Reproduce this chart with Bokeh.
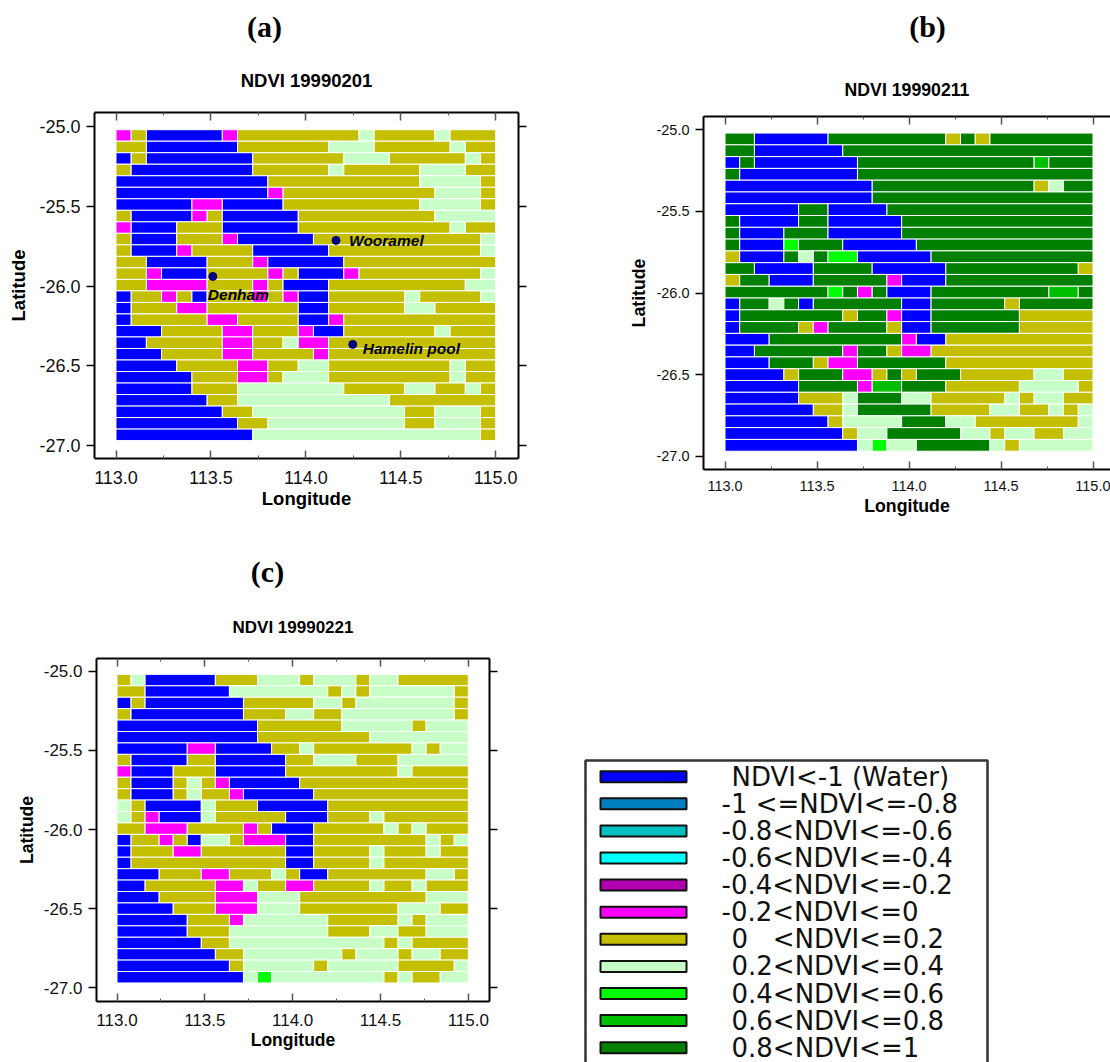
from bokeh.plotting import figure
from bokeh.models import (Range1d, LinearAxis, FixedTicker, NumeralTickFormatter,
                          CustomJSTickFormatter, ColumnDataSource)
from bokeh.core.properties import value
from bokeh.embed import file_html
from bokeh.resources import INLINE

# Classes
classes = ["NDVI<-1 (Water)", "-1 <=NDVI<=-0.8", "-0.8<NDVI<=-0.6", "-0.6<NDVI<=-0.4",
           "-0.4<NDVI<=-0.2", "-0.2<NDVI<=0", "0\u00a0\u00a0\u00a0<NDVI<=0.2", "0.2<NDVI<=0.4",
           "0.4<NDVI<=0.6", "0.6<NDVI<=0.8", "0.8<NDVI<=1"]
class_colors = ["#0000FF", "#0080C0", "#00C0C0", "#00FFFF", "#B000B0", "#FF00FF",
                "#C4BF00", "#C8FFC8", "#00FF00", "#00BE00", "#007F00"]
code_color = {"B": "#0000FF", "M": "#FF00FF", "O": "#C4BF00", "L": "#C8FFC8",
              "G": "#00FF00", "E": "#00BE00", "D": "#007F00"}

# Raster rows (north to south), run-length coded: class letter + number of cells
rows_a = [
    "M1 O1 B5 M1 O8 L1 O4 L1 O3", "O2 B6 O6 L3 O5 L1 O2", "B1 O1 B7 O6 L3 O5 L1 O1",
    "O1 B8 O5 L1 O5 L3 O2", "B10 O10 L4 O1", "B10 M1 O10 L3 O1", "B5 M2 B4 O9 L4 O1",
    "O1 B4 M1 O1 B5 O9 L4", "M1 B3 O3 B5 O10 L1 O2", "O1 B3 O3 M1 B5 O11 L1",
    "O1 B3 M1 O4 B5 O10 L1", "O2 B4 O3 M1 B5 O10", "O2 M1 B3 O4 M1 O1 B3 M1 O8 L1",
    "O2 M4 O3 M1 O1 B3 O9 L2", "B1 O2 M1 O1 B1 O3 M1 O1 M1 B2 O5 L1 O4 L1",
    "B1 O3 M2 O6 B2 O5 L2 O4", "B1 O5 M2 O4 B2 M1 O10", "B3 O4 M2 O3 M1 B2 O6 L1 O3",
    "B2 O5 M2 O2 L1 M2 O11", "B3 O4 M2 O4 M1 O11", "B4 O4 M2 O2 L2 O8 L1 O2",
    "B5 O3 M2 O1 L3 O8 L1 O2", "B5 O3 L7 O4 L2 O2 L1 O1", "B6 O2 L10 O7",
    "B7 O2 L10 O2 L3 O1", "B8 O2 L9 O2 L3 O1", "B9 L15 O1",
]
rows_b = [
    "D2 B5 D8 O1 D1 O1 D7", "D2 B6 D17", "B1 D1 B7 D12 E1 D3", "D1 B8 D16",
    "B10 D11 O1 L1 D2", "B10 D15", "B5 D2 B4 D14", "D1 B4 D2 B5 D13", "D1 B3 D3 B5 D13",
    "D1 B3 G1 D3 B5 D12", "O1 B3 D1 L1 D1 G2 B5 D11", "D2 B4 D4 B5 D9 O1",
    "O1 D2 B3 D5 M1 B3 D10", "D7 G1 D1 M1 D1 B3 D8 E2 D1", "B1 D2 L1 D1 B1 D6 B2 D5 O1 D5",
    "B1 D7 O1 D2 M1 B2 D6 O5", "B1 D4 O1 M1 D4 O1 B2 D6 O5", "B3 D9 M1 B2 O10",
    "B2 D6 M1 D2 O1 M2 O11", "B3 D3 O1 M2 D6 O10", "B4 O1 D3 M2 O1 D1 O1 D3 O5 L2 O2",
    "B5 D4 M1 E2 D3 O5 L4 O1", "B5 O3 L1 D3 L2 O5 L1 O1 L2 O2", "B6 O2 L1 D5 O4 L2 O2 L1 O1 L1",
    "B7 O1 L4 D3 L2 O7 L1", "B8 O1 L2 D5 L2 O1 L2 O2 L2", "B9 L1 G1 L2 D5 L1 O1 L5",
]
rows_c = [
    "O1 L1 B5 O3 L3 O1 L3 O1 L2 O5", "O2 B6 L7 O1 L1 O1 L6 O1", "B1 O1 B7 O5 L2 O1 L7 O1",
    "O1 B8 O3 L2 O2 L8 O1", "B10 O6 L5 O1 L3", "B10 O8 L7", "B5 M2 B4 O2 L1 O7 L1 O1 L2",
    "O1 B4 O2 B5 O2 L3 O3 L5", "M1 B3 O3 B5 O8 L1 O4", "O1 B3 O1 L1 O1 M1 B5 O12",
    "O1 B3 O1 L1 O2 M1 B5 O11", "L1 O1 B4 L1 O3 B5 O10", "L1 O1 M1 B3 L1 O5 B3 O3 L1 O6",
    "O2 M3 O4 M1 O1 B3 O5 L1 O1 L1 O3", "B1 O2 M1 O1 B1 L2 O1 M3 B2 O8 L1 O1 L1",
    "B1 O3 M2 O6 B2 O4 L1 O3 L1 O2", "B1 O11 B2 O4 L1 O6", "B3 O3 M2 O3 L1 O1 B2 O7 L2 O1",
    "B2 O5 M2 L1 O2 M2 O4 L1 O2 L1 O3", "B3 O4 M3 L3 O9 L3", "B4 O3 M3 L3 O7 L3 O2",
    "B5 O3 M1 L6 O5 L1 O1 L3", "B5 O3 L7 O3 L2 O2 L3", "B6 O2 L11 O1 L1 O4",
    "B7 O2 L7 O1 L3 O1 L2 O2", "B8 O1 L5 O1 L5 O4 L1", "B9 L1 G1 L8 O1 L1 O2 L2",
]

lon_start = 113.0
cell_lon = 0.08
lat_start = -25.02
cell_lat = 0.0722

x_major = [113.0, 113.5, 114.0, 114.5, 115.0]
x_minor = [113.25, 113.75, 114.25, 114.75]
y_major = [-25.0, -25.5, -26.0, -26.5, -27.0]

sites = ["Wooramel", "Denham", "Hamelin pool"]
site_lon = [114.159, 113.51, 114.247]
site_lat = [-25.714, -25.94, -26.366]
site_dx = [13, -5, 10]
site_dy = [0, 18, 4]

SANS = "Liberation Sans"


def cells(rows):
    left, right, top, bottom, color = [], [], [], [], []
    for r, line in enumerate(rows):
        col = 0
        for run in line.split():
            n = int(run[1:])
            left.append(lon_start + col * cell_lon)
            right.append(lon_start + (col + n) * cell_lon)
            top.append(lat_start - r * cell_lat)
            bottom.append(lat_start - (r + 1) * cell_lat)
            color.append(code_color[run[0]])
            col += n
    return dict(left=left, right=right, top=top, bottom=bottom, color=color)


def blank():
    return CustomJSTickFormatter(code="return ''")


def place(x, y):
    return {"position": "absolute", "left": f"{x}px", "top": f"{y}px"}


def panel(rows, title, canvas, frame, x_px, y_px, tick_font, label_font, title_font,
          title_standoff, xl_standoff, yl_standoff, ytick_standoff, xtick_standoff, right_axis=True):
    # canvas=(x0,y0,x1,y1) frame=(l,t,r,b) in window pixels
    cx0, cy0, cx1, cy1 = canvas
    l, t, r, b = frame
    sx = (x_px[1] - x_px[0]) / 2.0
    sy = (y_px[1] - y_px[0]) / 2.0
    xr = Range1d(113 + (l - x_px[0]) / sx, 113 + (r - x_px[0]) / sx)
    yr = Range1d(-25 - (b - y_px[0]) / sy, -25 - (t - y_px[0]) / sy)
    p = figure(width=cx1 - cx0, height=cy1 - cy0, frame_width=r - l, frame_height=b - t,
               x_range=xr, y_range=yr, x_axis_location=None, y_axis_location=None,
               toolbar_location=None, output_backend="svg",
               min_border_left=l - cx0, min_border_right=cx1 - r,
               min_border_top=t - cy0, min_border_bottom=cy1 - b,
               styles=place(cx0, cy0))
    p.grid.visible = False
    p.outline_line_color = None
    p.background_fill_color = "white"
    p.title.text = title
    p.title.align = "center"
    p.title.text_font = SANS
    p.title.text_font_style = "bold"
    p.title.text_font_size = title_font
    p.title.text_color = "black"
    p.title.standoff = title_standoff

    def xaxis(side, labelled):
        a = LinearAxis(ticker=FixedTicker(ticks=x_major, minor_ticks=x_minor))
        a.major_tick_in = 8
        a.major_tick_out = 0
        a.minor_tick_in = 3
        a.minor_tick_out = 0
        a.major_tick_line_color = "#555555"
        a.major_tick_line_width = 1.5
        a.minor_tick_line_color = "#555555"
        a.axis_line_color = "black"
        a.axis_line_width = 2
        if labelled:
            a.formatter = NumeralTickFormatter(format="0.0")
            a.major_label_text_font = SANS
            a.major_label_text_font_size = tick_font
            a.major_label_text_color = "#111111"
            a.major_label_standoff = xtick_standoff
            a.axis_label = "Longitude"
            a.axis_label_text_font = SANS
            a.axis_label_text_font_style = "bold"
            a.axis_label_text_font_size = label_font
            a.axis_label_text_color = "black"
            a.axis_label_standoff = xl_standoff
        else:
            a.formatter = blank()
            a.major_label_standoff = 0
        p.add_layout(a, side)

    def yaxis(side, labelled):
        a = LinearAxis(ticker=FixedTicker(ticks=y_major, minor_ticks=[]))
        a.major_tick_in = 0
        a.major_tick_out = 8
        a.minor_tick_line_color = None
        a.major_tick_line_color = "black"
        a.major_tick_line_width = 1.5
        a.axis_line_color = "black"
        a.axis_line_width = 2
        if labelled:
            a.formatter = NumeralTickFormatter(format="0.0")
            a.major_label_text_font = SANS
            a.major_label_text_font_size = tick_font
            a.major_label_text_color = "#111111"
            a.major_label_standoff = ytick_standoff
            a.axis_label = "Latitude"
            a.axis_label_text_font = SANS
            a.axis_label_text_font_style = "bold"
            a.axis_label_text_font_size = label_font
            a.axis_label_text_color = "black"
            a.axis_label_standoff = yl_standoff
        else:
            a.formatter = blank()
            a.major_label_standoff = 0
        p.add_layout(a, side)

    xaxis("below", True)
    xaxis("above", False)
    yaxis("left", True)
    if right_axis:
        yaxis("right", False)

    src = ColumnDataSource(cells(rows))
    p.quad(left="left", right="right", top="top", bottom="bottom", fill_color="color",
           line_color="white", line_width=1, source=src)
    return p


def letter(text, cx, cy):
    f = figure(width=70, height=44, x_range=Range1d(0, 1), y_range=Range1d(0, 1),
               x_axis_location=None, y_axis_location=None, toolbar_location=None,
               output_backend="svg", min_border=0, outline_line_color=None,
               styles=place(cx - 35, cy - 22))
    f.grid.visible = False
    f.text(x=[0.5], y=[0.5], text=[text], text_font=value("Liberation Serif"),
           text_font_style="bold", text_font_size="30px", text_color="black",
           text_align="center", text_baseline="middle")
    return f


pa = panel(rows_a, "NDVI 19990201", (0, 30, 560, 530), (94, 112, 518, 458),
           (115.5, 495.2), (126, 445), "18px", "18.5px", "18.5px", 44, 1, 7, 6, 12)
pb = panel(rows_b, "NDVI 19990211", (560, 30, 1110, 530), (703, 116, 1110, 469),
           (724.5, 1092.5), (129.3, 455.7), "14.5px", "17.7px", "17.7px", 34, 2, 4, 6, 11, right_axis=False)
pc = panel(rows_c, "NDVI 19990221", (0, 575, 560, 1062), (96, 658, 489, 1001),
           (116.5, 467.8), (670.7, 987.3), "17px", "17.5px", "17px", 44, 1, 4, 6, 12)

# Sites on panel (a)
site_src = ColumnDataSource(dict(x=site_lon, y=site_lat, name=sites, dx=site_dx, dy=site_dy))
pa.scatter("x", "y", size=8, color="#000080", source=site_src)
pa.text("x", "y", text="name", x_offset="dx", y_offset="dy", source=site_src,
        text_font=value(SANS), text_font_style="bold italic", text_font_size="15.5px",
        text_color="black", text_baseline="middle")

# Legend panel
pl = figure(width=550, height=532, x_range=Range1d(560, 1110), y_range=Range1d(1062, 530),
            x_axis_location=None, y_axis_location=None, toolbar_location=None,
            output_backend="svg", min_border=0, outline_line_color=None, styles=place(560, 530))
pl.grid.visible = False
pl.quad(left=[585], right=[987], top=[760], bottom=[1100], fill_color="white",
        line_color="#333333", line_width=2.5)
n = len(classes)
sw_top = [770.7 + i * 27.1 for i in range(n)]
pl.quad(left=[600] * n, right=[686] * n, top=sw_top, bottom=[t + 11 for t in sw_top],
        fill_color=class_colors, line_color="#111111", line_width=2)
text_x = [731, 721, 721, 721, 721, 721, 731, 731, 731, 731, 731]
pl.text(x=text_x, y=[t + 5.5 for t in sw_top], text=classes, text_font=value("DejaVu Sans"),
        text_font_size="26px", text_color="#111111", text_baseline="middle")

roots = [pa, pb, pc, pl, letter("(a)", 264, 26), letter("(b)", 927, 26), letter("(c)", 267, 571)]
open("out.html", "w").write(file_html(roots, INLINE))
